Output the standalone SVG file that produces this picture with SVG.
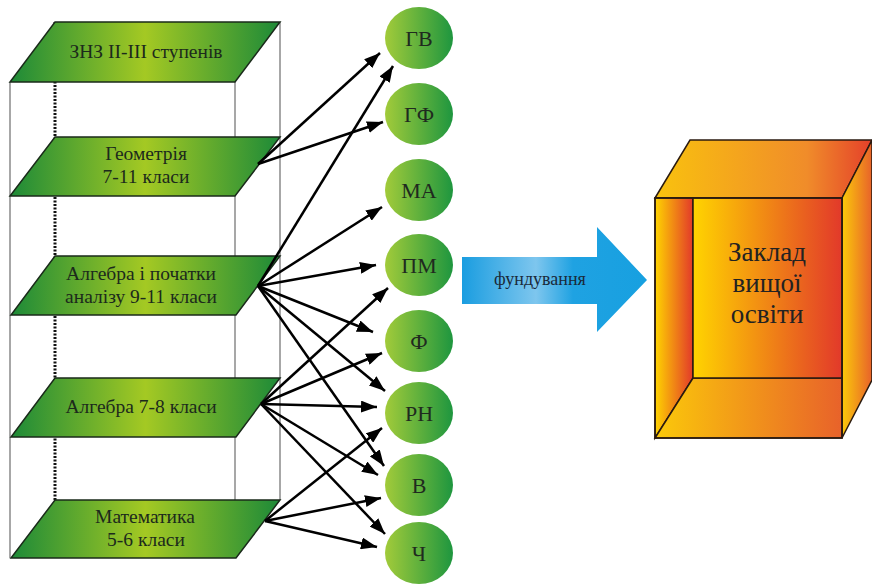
<svg xmlns="http://www.w3.org/2000/svg" width="872" height="588" viewBox="0 0 872 588">
<defs>
<linearGradient id="gPlate" x1="0" y1="0" x2="1" y2="0">
<stop offset="0" stop-color="#1d8a38"/>
<stop offset="0.5" stop-color="#a4c923"/>
<stop offset="1" stop-color="#1d8a38"/>
</linearGradient>
<linearGradient id="gCircle" x1="0" y1="0" x2="1" y2="0">
<stop offset="0" stop-color="#a2cb3a"/>
<stop offset="1" stop-color="#1e963f"/>
</linearGradient>
<linearGradient id="gBlue" x1="0" y1="0" x2="1" y2="0">
<stop offset="0" stop-color="#1a9de0"/>
<stop offset="0.4" stop-color="#7ec6ee"/>
<stop offset="0.6" stop-color="#1fa2e2"/>
<stop offset="1" stop-color="#17a0e0"/>
</linearGradient>
<linearGradient id="gYR" x1="0" y1="0" x2="1" y2="0">
<stop offset="0" stop-color="#ffd400"/>
<stop offset="1" stop-color="#e2392a"/>
</linearGradient>
<linearGradient id="gYO" x1="0" y1="0" x2="1" y2="0">
<stop offset="0" stop-color="#fbc90a"/>
<stop offset="1" stop-color="#e8622a"/>
</linearGradient>
<linearGradient id="gTop" x1="0" y1="0" x2="1" y2="0">
<stop offset="0" stop-color="#f9c20e"/>
<stop offset="0.7" stop-color="#f08c2a"/>
<stop offset="1" stop-color="#e4402a"/>
</linearGradient>
<marker id="ah" markerUnits="userSpaceOnUse" markerWidth="16" markerHeight="12" refX="16" refY="6" orient="auto">
<path d="M0,0 L16,6 L0,12 z" fill="#000"/>
</marker>
<style>
text{font-family:'Liberation Serif','Times New Roman','DejaVu Serif',serif}
.frame{stroke:#8a8a8a;stroke-width:1.5;fill:none}
.dots{stroke:#111;stroke-width:3;stroke-dasharray:2 1.5;fill:none}
.plate{fill:url(#gPlate);stroke:#1a2a1a;stroke-width:1.5}
.pt{font-size:19.5px;fill:#1c2a1c;text-anchor:middle}
.circ{fill:url(#gCircle)}
.ct{font-size:22px;fill:#1f2a1f;text-anchor:middle}
.con line{stroke:#000;stroke-width:2.5;marker-end:url(#ah)}
.box{stroke:#2a1a10;stroke-width:1.5}
.bt{font-size:27px;fill:#222;text-anchor:middle}
.ft{font-size:18px;fill:#1a2a3a;text-anchor:middle}
</style>
</defs>
<rect width="872" height="588" fill="#fff"/>

<g id="frame">
<line class="frame" x1="10" y1="82" x2="10" y2="558"/>
<line class="frame" x1="235" y1="82" x2="235" y2="558"/>
<line class="frame" x1="280" y1="22" x2="280" y2="500"/>
<line class="dots" x1="55" y1="22" x2="55" y2="500"/>
</g>

<g id="plate-zn3">
<polygon class="plate" points="55,22 280,22 235,82 10,82"/>
<text class="pt" x="146" y="58">ЗНЗ ІІ-ІІІ ступенів</text>
</g>
<g id="plate-geometry">
<polygon class="plate" points="55,137 280,137 235,196 10,196"/>
<text class="pt" x="146" y="160">Геометрія</text>
<text class="pt" x="146" y="183">7-11 класи</text>
</g>
<g id="plate-algebra911">
<polygon class="plate" points="55,256 280,256 236,315 11,315"/>
<text class="pt" x="141" y="280">Алгебра і початки</text>
<text class="pt" x="141" y="303">аналізу 9-11 класи</text>
</g>
<g id="plate-algebra78">
<polygon class="plate" points="55,378 280,378 236,437 11,437"/>
<text class="pt" x="141" y="413">Алгебра 7-8 класи</text>
</g>
<g id="plate-math56">
<polygon class="plate" points="55,500 280,500 236,558 11,558"/>
<text class="pt" x="145" y="523">Математика</text>
<text class="pt" x="146" y="546">5-6 класи</text>
</g>

<g id="connectors" class="con">
<line x1="258" y1="164" x2="380" y2="53"/>
<line x1="258" y1="164" x2="383" y2="122"/>
<line x1="258" y1="286" x2="393" y2="66"/>
<line x1="258" y1="286" x2="382" y2="207"/>
<line x1="258" y1="286" x2="376" y2="265"/>
<line x1="258" y1="286" x2="373" y2="332"/>
<line x1="258" y1="286" x2="385" y2="391"/>
<line x1="258" y1="286" x2="384" y2="466"/>
<line x1="261" y1="404" x2="388" y2="288"/>
<line x1="261" y1="404" x2="382" y2="353"/>
<line x1="261" y1="404" x2="377" y2="407"/>
<line x1="261" y1="404" x2="378" y2="475"/>
<line x1="261" y1="404" x2="385" y2="534"/>
<line x1="265" y1="521" x2="382" y2="428"/>
<line x1="265" y1="521" x2="381" y2="498"/>
<line x1="265" y1="521" x2="377" y2="547"/>
</g>

<g id="c-gv"><ellipse class="circ" cx="419" cy="38" rx="34" ry="31"/><text class="ct" x="419" y="46">ГВ</text></g>
<g id="c-gf"><ellipse class="circ" cx="419" cy="114" rx="34" ry="31"/><text class="ct" x="419" y="122">ГФ</text></g>
<g id="c-ma"><ellipse class="circ" cx="419" cy="190" rx="34" ry="31"/><text class="ct" x="419" y="198">МА</text></g>
<g id="c-pm"><ellipse class="circ" cx="419" cy="265" rx="34" ry="31"/><text class="ct" x="419" y="273">ПМ</text></g>
<g id="c-f"><ellipse class="circ" cx="419" cy="341" rx="34" ry="31"/><text class="ct" x="419" y="349">Ф</text></g>
<g id="c-rn"><ellipse class="circ" cx="419" cy="413" rx="34" ry="31"/><text class="ct" x="419" y="421">РН</text></g>
<g id="c-v"><ellipse class="circ" cx="419" cy="485" rx="34" ry="31"/><text class="ct" x="419" y="493">В</text></g>
<g id="c-ch"><ellipse class="circ" cx="419" cy="553" rx="34" ry="31"/><text class="ct" x="419" y="561">Ч</text></g>

<g id="fund-arrow">
<polygon points="462,257 597,257 597,227 647,280 597,332 597,304 462,304" fill="url(#gBlue)"/>
<text class="ft" x="540" y="285">фундування</text>
</g>

<g id="university">
<polygon class="box" points="655,198 690,140 872,140 842,198" fill="url(#gTop)"/>
<polygon class="box" points="842,198 872,140 872,380 842,438" fill="url(#gYO)"/>
<polygon class="box" points="655,198 693,198 693,378 655,438" fill="url(#gYR)"/>
<polygon class="box" points="693,378 842,378 842,438 655,438" fill="url(#gYO)"/>
<rect class="box" x="693" y="198" width="149" height="180" fill="url(#gYR)"/>
<rect x="655" y="198" width="187" height="240" fill="none" stroke="#2a1a10" stroke-width="1.5"/>
<text class="bt" x="767" y="261">Заклад</text>
<text class="bt" x="767" y="292">вищої</text>
<text class="bt" x="767" y="323">освіти</text>
</g>
</svg>
